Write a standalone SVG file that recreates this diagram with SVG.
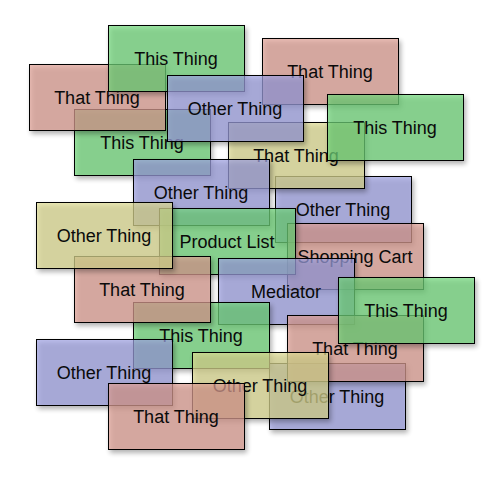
<svg xmlns="http://www.w3.org/2000/svg" width="503" height="482" viewBox="0 0 503 482">
<defs>
<filter id="blur" x="-20%" y="-20%" width="140%" height="140%"><feGaussianBlur stdDeviation="2.4"/></filter>
<style>
.sh{fill:#000;opacity:.3;filter:url(#blur)}
.box{stroke:#000;stroke-width:1;fill-opacity:.7}
.gr{fill:#74dc7e}.rd{fill:#e3a397}.bl{fill:#a1a4e6}.ye{fill:#e2df96}
.t{font-family:"Liberation Sans",Arial,Helvetica,sans-serif;font-size:18px;text-anchor:middle;fill:#0a0a0a}
</style>
</defs>
<rect width="503" height="482" fill="#fff"/>
<g id="nodes">
<g id="n-this-1"><rect class="sh" x="76" y="112" width="137" height="67"/><rect class="box gr" x="74.5" y="109.5" width="136" height="66"/><text class="t" x="142" y="149">This Thing</text></g>
<g id="n-that-1"><rect class="sh" x="31" y="67" width="137" height="67"/><rect class="box rd" x="29.5" y="64.5" width="136" height="66"/><text class="t" x="97" y="104">That Thing</text></g>
<g id="n-this-2"><rect class="sh" x="110" y="28" width="137" height="67"/><rect class="box gr" x="108.5" y="25.5" width="136" height="66"/><text class="t" x="176" y="65">This Thing</text></g>
<g id="n-that-2"><rect class="sh" x="264" y="41" width="137" height="67"/><rect class="box rd" x="262.5" y="38.5" width="136" height="66"/><text class="t" x="330" y="78">That Thing</text></g>
<g id="n-other-1"><rect class="sh" x="277" y="179" width="137" height="67"/><rect class="box bl" x="275.5" y="176.5" width="136" height="66"/><text class="t" x="343" y="216">Other Thing</text></g>
<g id="n-that-3"><rect class="sh" x="230" y="125" width="137" height="67"/><rect class="box ye" x="228.5" y="122.5" width="136" height="66"/><text class="t" x="296" y="162">That Thing</text></g>
<g id="n-other-2"><rect class="sh" x="169" y="78" width="137" height="67"/><rect class="box bl" x="167.5" y="75.5" width="136" height="66"/><text class="t" x="235" y="115">Other Thing</text></g>
<g id="n-this-3"><rect class="sh" x="329" y="97" width="137" height="67"/><rect class="box gr" x="327.5" y="94.5" width="136" height="66"/><text class="t" x="395" y="134">This Thing</text></g>
<g id="n-other-3"><rect class="sh" x="135" y="162" width="137" height="67"/><rect class="box bl" x="133.5" y="159.5" width="136" height="66"/><text class="t" x="201" y="199">Other Thing</text></g>
<g id="n-shopping-cart"><rect class="sh" x="289" y="226" width="137" height="67"/><rect class="box rd" x="287.5" y="223.5" width="136" height="66"/><text class="t" x="355" y="263">Shopping Cart</text></g>
<g id="n-product-list"><rect class="sh" x="161" y="211" width="137" height="67"/><rect class="box gr" x="159.5" y="208.5" width="136" height="66"/><text class="t" x="227" y="248">Product List</text></g>
<g id="n-mediator"><rect class="sh" x="220" y="261" width="137" height="67"/><rect class="box bl" x="218.5" y="258.5" width="136" height="66"/><text class="t" x="286" y="298">Mediator</text></g>
<g id="n-other-4"><rect class="sh" x="271" y="366" width="137" height="67"/><rect class="box bl" x="269.5" y="363.5" width="136" height="66"/><text class="t" x="337" y="403">Other Thing</text></g>
<g id="n-that-4"><rect class="sh" x="289" y="318" width="137" height="67"/><rect class="box rd" x="287.5" y="315.5" width="136" height="66"/><text class="t" x="355" y="355">That Thing</text></g>
<g id="n-this-4"><rect class="sh" x="340" y="280" width="137" height="67"/><rect class="box gr" x="338.5" y="277.5" width="136" height="66"/><text class="t" x="406" y="317">This Thing</text></g>
<g id="n-this-5"><rect class="sh" x="135" y="305" width="137" height="67"/><rect class="box gr" x="133.5" y="302.5" width="136" height="66"/><text class="t" x="201" y="342">This Thing</text></g>
<g id="n-that-5"><rect class="sh" x="76" y="259" width="137" height="67"/><rect class="box rd" x="74.5" y="256.5" width="136" height="66"/><text class="t" x="142" y="296">That Thing</text></g>
<g id="n-other-5"><rect class="sh" x="38" y="205" width="137" height="67"/><rect class="box ye" x="36.5" y="202.5" width="136" height="66"/><text class="t" x="104" y="242">Other Thing</text></g>
<g id="n-other-6"><rect class="sh" x="38" y="342" width="137" height="67"/><rect class="box bl" x="36.5" y="339.5" width="136" height="66"/><text class="t" x="104" y="379">Other Thing</text></g>
<g id="n-other-7"><rect class="sh" x="194" y="355" width="137" height="67"/><rect class="box ye" x="192.5" y="352.5" width="136" height="66"/><text class="t" x="260" y="392">Other Thing</text></g>
<g id="n-that-6"><rect class="sh" x="110" y="386" width="137" height="67"/><rect class="box rd" x="108.5" y="383.5" width="136" height="66"/><text class="t" x="176" y="423">That Thing</text></g>
</g>
</svg>
